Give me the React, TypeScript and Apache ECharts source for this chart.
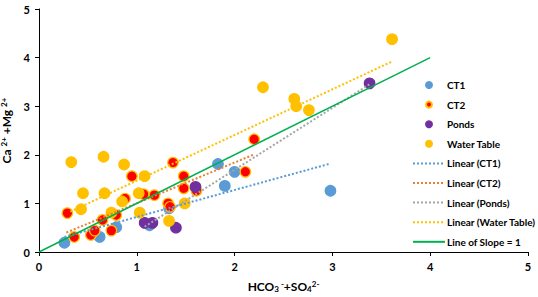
import React, { useEffect, useRef } from "react";
import * as echarts from "echarts";

const ct1X = [0.26, 0.62, 0.79, 1.13, 1.33, 1.83, 1.9, 2.0, 2.98];
const ct1Y = [0.19, 0.31, 0.51, 0.55, 0.9, 1.81, 1.36, 1.65, 1.26];

const ct2X = [0.29, 0.36, 0.53, 0.57, 0.65, 0.74, 0.79, 0.88, 0.95, 1.07, 1.18, 1.32, 1.34, 1.37, 1.48, 1.48, 1.61, 2.11, 2.2];
const ct2Y = [0.8, 0.31, 0.35, 0.44, 0.66, 0.44, 0.76, 1.1, 1.56, 1.19, 1.17, 1.0, 0.93, 1.84, 1.56, 1.31, 1.26, 1.65, 2.32];

const pondsX = [1.08, 1.16, 1.4, 1.6, 3.38];
const pondsY = [0.6, 0.6, 0.5, 1.34, 3.47];

const wtX = [0.33, 0.66, 0.87, 0.45, 0.67, 0.43, 1.08, 0.85, 1.02, 0.74, 1.03, 1.33, 1.49, 2.29, 2.61, 2.63, 2.76, 3.61];
const wtY = [1.85, 1.96, 1.8, 1.21, 1.21, 0.88, 1.56, 1.04, 1.21, 0.81, 0.81, 0.64, 1.0, 3.39, 3.15, 3.0, 2.92, 4.38];

const trendCT1 = [[0.26, 0.31], [2.98, 1.82]];
const trendCT2 = [[0.28, 0.4], [2.19, 2.0]];
const trendPonds = [[1.08, 0.52], [3.38, 3.45]];
const trendWT = [[0.32, 0.83], [3.61, 3.92]];
const slopeLine = [[0, 0], [4, 4]];

const seriesNames = [
  "CT1",
  "CT2",
  "Ponds",
  "Water Table",
  "Linear (CT1)",
  "Linear (CT2)",
  "Linear (Ponds)",
  "Linear (Water Table)",
  "Line of Slope = 1",
];

const FONT = "Lato, 'Open Sans', sans-serif";

const zip = (xs: number[], ys: number[]) => xs.map((x, i) => [x, ys[i]]);

export default function App() {
  const ref = useRef<HTMLDivElement>(null);
  useEffect(() => {
    if (!ref.current) return;
    const chart = echarts.init(ref.current, undefined, { renderer: "svg" });
    const scatter = (name: string, data: number[][], color: string, border: string) => ({
      name,
      type: "scatter",
      data,
      symbol: "circle",
      symbolSize: 10.5,
      itemStyle: { color, borderColor: border, borderWidth: 1.2, opacity: 1 },
      z: 2,
    });
    const trend = (name: string, data: number[][], color: string) => ({
      name,
      type: "line",
      data,
      symbol: "none",
      showSymbol: false,
      itemStyle: { color },
      lineStyle: { color, width: 2, type: [2, 2] },
      z: 3,
    });
    const axisCommon = {
      type: "value",
      min: 0,
      max: 5,
      interval: 1,
      splitLine: { show: false },
      axisLine: { show: true, lineStyle: { color: "#000", width: 1 } },
      axisTick: { show: true, inside: false, length: 4, lineStyle: { color: "#000" } },
      axisLabel: { color: "#000", fontFamily: FONT, fontWeight: "bold", fontSize: 11 },
      nameLocation: "middle",
      nameTextStyle: {
        color: "#000",
        fontFamily: FONT,
        fontWeight: "bold",
        fontSize: 12,
        rich: {
          m: { fontFamily: FONT, fontWeight: "bold", fontSize: 12, color: "#000", lineHeight: 13 },
          sub: { fontFamily: FONT, fontWeight: "bold", fontSize: 8, color: "#000", verticalAlign: "bottom", lineHeight: 7 },
          sup: { fontFamily: FONT, fontWeight: "bold", fontSize: 8, color: "#000", verticalAlign: "top", lineHeight: 7 },
        },
      },
    };
    const hiddenDot = { opacity: 0, color: "transparent", borderWidth: 0 };
    chart.setOption({
      animation: false,
      backgroundColor: "#fff",
      grid: { left: 39, right: 10, top: 9, bottom: 45, containLabel: false, outerBoundsMode: "none" },
      xAxis: {
        ...axisCommon,
        name: "{m|HCO}{sub|3}{sup| -}{m|+SO}{sub|4}{sup|2-}",
        nameGap: 28,
        axisLabel: { ...axisCommon.axisLabel, margin: 9 },
      },
      yAxis: {
        ...axisCommon,
        name: "{m|Ca }{sup|2+}{m| +Mg }{sup|2+}",
        nameGap: 19,
        nameRotate: 90,
        axisLabel: { ...axisCommon.axisLabel, margin: 9 },
      },
      legend: {
        orient: "vertical",
        left: 407,
        top: 73,
        itemWidth: 32,
        itemHeight: 6,
        itemGap: 5.6,
        data: seriesNames.map((n, i) => (i >= 4 ? { name: n, itemStyle: hiddenDot } : { name: n })),
        textStyle: {
          color: "#000",
          fontFamily: FONT,
          fontWeight: "bold",
          fontSize: 10,
          lineHeight: 14,
          padding: [0, 0, 0, -3],
        },
        selectedMode: false,
      },
      series: [
        scatter(seriesNames[0], zip(ct1X, ct1Y), "#5B9BD5", "#5B9BD5"),
        scatter(seriesNames[1], zip(ct2X, ct2Y), "#FF0000", "#FFC000"),
        scatter(seriesNames[2], zip(pondsX, pondsY), "#7030A0", "#7030A0"),
        scatter(seriesNames[3], zip(wtX, wtY), "#FFC000", "#FFC000"),
        trend(seriesNames[4], trendCT1, "#5B9BD5"),
        trend(seriesNames[5], trendCT2, "#ED7D31"),
        trend(seriesNames[6], trendPonds, "#A5A5A5"),
        trend(seriesNames[7], trendWT, "#FFC000"),
        {
          name: seriesNames[8],
          type: "line",
          data: slopeLine,
          symbol: "none",
          showSymbol: false,
          itemStyle: { color: "#00B050" },
          lineStyle: { color: "#00B050", width: 1.5, type: "solid" },
          z: 3,
        },
      ],
    });
    return () => chart.dispose();
  }, []);
  return <div ref={ref} style={{ width: 538, height: 297, position: "absolute", left: 0, top: 0 }} />;
}
